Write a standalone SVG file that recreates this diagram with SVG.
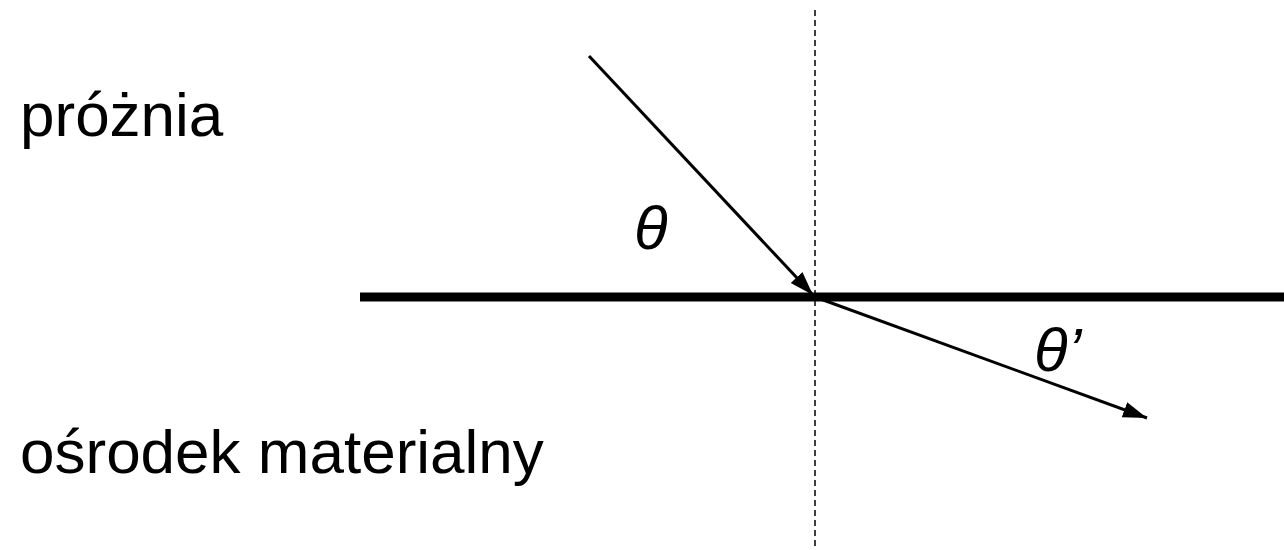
<svg xmlns="http://www.w3.org/2000/svg" width="1284" height="550" viewBox="0 0 1284 550">
<style>
.lbl{font-family:"Liberation Sans",Arial,sans-serif;font-size:62px;fill:#000}
.ang{font-family:"Liberation Sans",Arial,sans-serif;font-size:62px;font-style:italic;fill:#000}
.ray{stroke:#000;stroke-width:3;fill:none}
</style>
<defs>
<marker id="ah" markerUnits="userSpaceOnUse" markerWidth="26" markerHeight="18" refX="24" refY="9" orient="auto">
<path d="M0,1 L24,9 L0,17 Z" fill="#000"/>
</marker>
</defs>
<g id="media">
<text class="lbl" x="20" y="136">próżnia</text>
<text class="lbl" x="20" y="473">ośrodek materialny</text>
</g>
<g id="interface">
<line x1="360" y1="297" x2="1284" y2="297" stroke="#000" stroke-width="9"/>
</g>
<g id="normal">
<line x1="815" y1="10" x2="815" y2="550" stroke="#000" stroke-width="1.5" stroke-dasharray="6,4"/>
</g>
<g id="connectors">
<line class="ray" x1="589" y1="56" x2="813" y2="295" marker-end="url(#ah)"/>
<line class="ray" x1="815" y1="297" x2="1147" y2="418" marker-end="url(#ah)"/>
</g>
<g id="angles">
<text class="ang" x="634" y="249">θ</text>
<text class="ang" x="1034" y="371">θ’</text>
</g>
</svg>
